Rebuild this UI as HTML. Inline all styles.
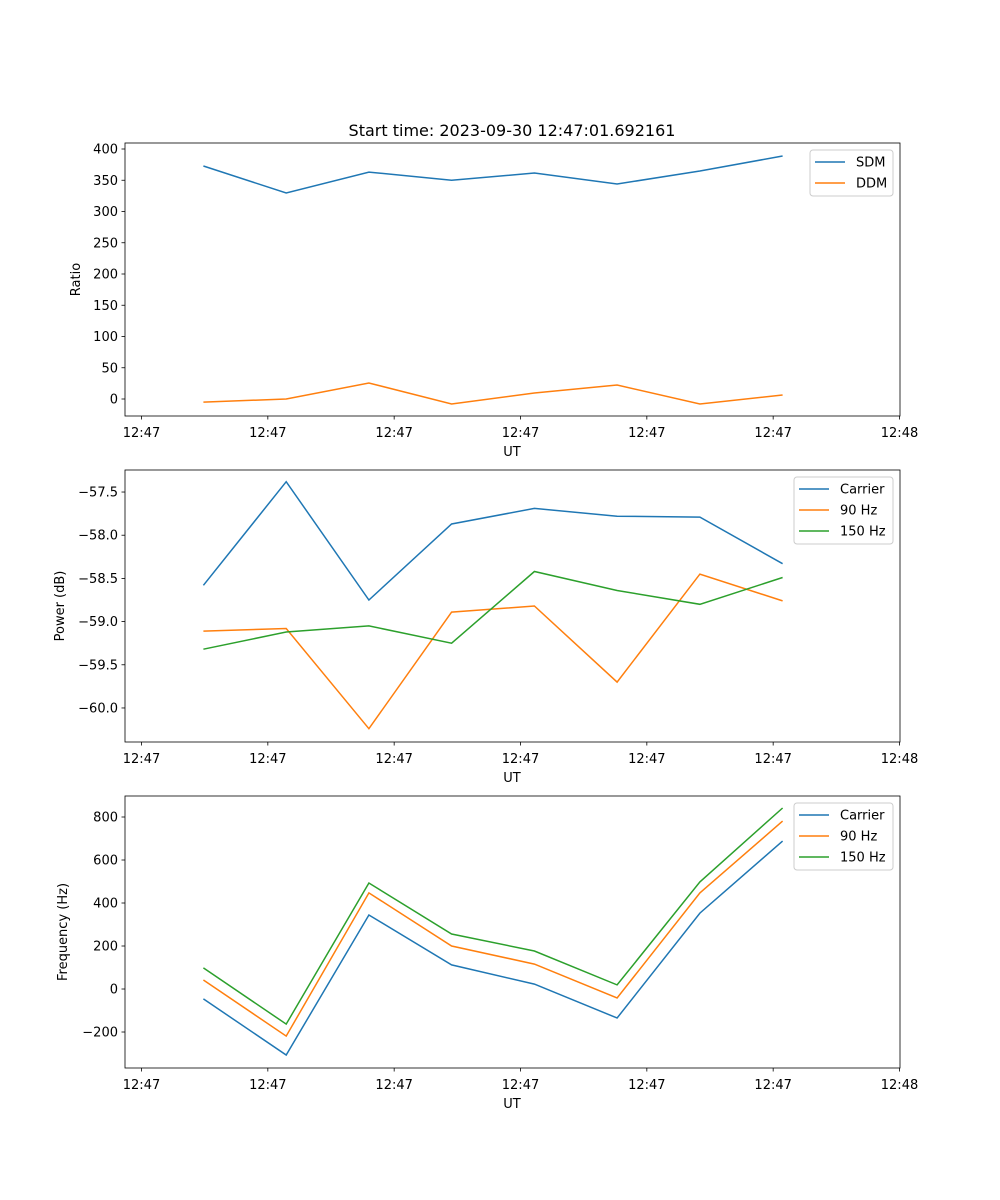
<!DOCTYPE html>
<html><head><meta charset="utf-8"><style>
body{margin:0;background:#fff}
svg{display:block;font-family:"DejaVu Sans","Liberation Sans",sans-serif}
</style></head><body>
<svg id="fig" width="1000" height="1200" xmlns="http://www.w3.org/2000/svg">
<rect width="1000" height="1200" fill="#fff"/>
<text x="512" y="136" font-size="16" text-anchor="middle">Start time: 2023-09-30 12:47:01.692161</text>
</svg>
<script>
const times = [4.9, 11.45, 18.0, 24.55, 31.1, 37.65, 44.2, 50.75];
const xTickVals = [0, 10, 20, 30, 40, 50, 60];
const xTickLabels = ["12:47","12:47","12:47","12:47","12:47","12:47","12:48"];
const sdm = [372.8, 329.6, 363, 350, 361.6, 344, 364.8, 388.8];
const ddm = [-5, 0, 25.6, -8, 9.6, 22.4, -8, 6.4];
const powCarrier = [-58.58, -57.38, -58.75, -57.87, -57.69, -57.78, -57.79, -58.33];
const pow90 = [-59.11, -59.08, -60.24, -58.89, -58.82, -59.70, -58.45, -58.76];
const pow150 = [-59.32, -59.12, -59.05, -59.25, -58.42, -58.64, -58.80, -58.49];
const freqCarrier = [-46, -307, 344, 112, 23, -135, 353, 688];
const freq90 = [42, -219, 447, 200, 116, -42, 447, 781];
const freq150 = [98, -163, 493, 256, 177, 19, 498, 842];
const ratioTicks = [0,50,100,150,200,250,300,350,400];
const powTicks = [-60.0,-59.5,-59.0,-58.5,-58.0,-57.5];
const freqTicks = [-200,0,200,400,600,800];

const svg = document.getElementById('fig');
const NS = 'http://www.w3.org/2000/svg';
const C = ['#1f77b4','#ff7f0e','#2ca02c'];
function mk(tag, attrs, parent){const e=document.createElementNS(NS,tag);for(const k in attrs)e.setAttribute(k,attrs[k]);(parent||svg).appendChild(e);return e;}
const L=125, R=900;
function xs(t){return 141.5 + t*(899.5-141.5)/60;}

function panel(name, top, bot, ymin, ymax, ticks, fmt, ylabel, series, names, legend){
  const g = mk('g',{});
  
  
  const ys = v => bot - (v-ymin)/(ymax-ymin)*(bot-top);
  series.forEach((s,i)=>{
    const p = mk('polyline',{points:s.map((v,j)=>xs(times[j]).toFixed(1)+','+ys(v).toFixed(1)).join(' '),fill:'none',stroke:C[i],'stroke-width':1.5},g);
    
    
  });
  const fr = mk('rect',{x:L,y:top,width:R-L,height:bot-top,fill:'none',stroke:'#000','stroke-width':0.8},g);
  
  
  ticks.forEach(v=>{
    const y=ys(v);
    mk('line',{x1:L-3.5,x2:L,y1:y,y2:y,stroke:'#000','stroke-width':0.8},g);
    const t=mk('text',{x:L-7,y:y+4.5,'font-size':13,'text-anchor':'end'},g);
    t.textContent=fmt(v);
    
    
  });
  xTickVals.forEach((v,i)=>{
    const x=xs(v);
    mk('line',{x1:x,x2:x,y1:bot,y2:bot+3.5,stroke:'#000','stroke-width':0.8},g);
    const t=mk('text',{x:x,y:bot+21,'font-size':13,'text-anchor':'middle'},g);
    t.textContent=xTickLabels[i];
    
    
  });
  const xl=mk('text',{x:512,y:bot+40,'font-size':13,'text-anchor':'middle'},g);
  xl.textContent='UT';
  
  
  const cy=(top+bot)/2;
  const yl=mk('text',{x:0,y:0,'font-size':13,'text-anchor':'middle',transform:`translate(${legend.yx},${cy}) rotate(-90)`},g);
  yl.textContent=ylabel;
  
  
  const lg=mk('g',{},g);
  
  
  mk('rect',{x:legend.x,y:top+7,width:893-legend.x,height:names.length*21+4,rx:3,fill:'#fff','fill-opacity':0.8,stroke:'#ccc','stroke-width':1},lg);
  names.forEach((n,i)=>{
    const y=top+19+i*21;
    mk('line',{x1:legend.x+5,x2:legend.x+35,y1:y,y2:y,stroke:C[i],'stroke-width':1.5},lg);
    const t=mk('text',{x:legend.x+46,y:y+4.5,'font-size':13},lg);
    t.textContent=n;
    
    
  });
}
panel('ratio',143,416,-27.2,409.6,ratioTicks,v=>String(v),'Ratio',[sdm,ddm],['SDM','DDM'],{x:810,yx:80});
panel('power',470,742,-60.394,-57.245,powTicks,v=>v.toFixed(1).replace('-','\u2212'),'Power (dB)',[powCarrier,pow90,pow150],['Carrier','90 Hz','150 Hz'],{x:794,yx:64});
panel('frequency',796,1068,-367.4,897.7,freqTicks,v=>String(v).replace('-','\u2212'),'Frequency (Hz)',[freqCarrier,freq90,freq150],['Carrier','90 Hz','150 Hz'],{x:794,yx:67});
</script>
</body></html>
